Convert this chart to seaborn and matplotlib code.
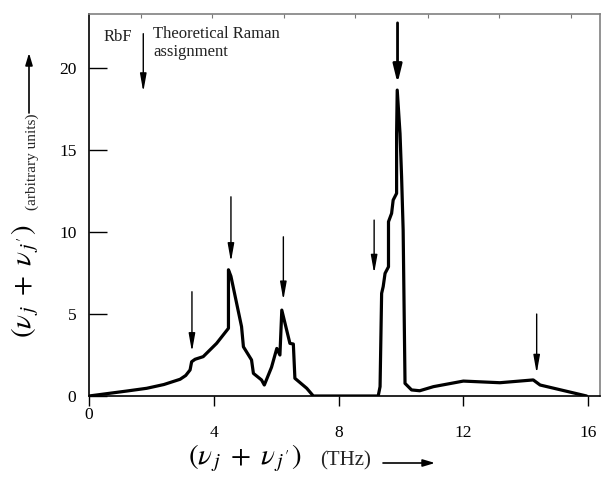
import numpy as np
import pandas as pd
import matplotlib
matplotlib.use("Agg")
import matplotlib.pyplot as plt
from matplotlib.ticker import FixedLocator
from matplotlib.transforms import ScaledTranslation
import seaborn as sns

# ---------------- data ----------------
freq = [0, 0.6, 1.2, 1.85, 2.4, 2.92, 3.1, 3.24, 3.29, 3.4, 3.66, 4.09, 4.47, 4.47,
        4.55, 4.89, 4.95, 5.21, 5.27, 5.53, 5.62, 5.85, 6.02, 6.12, 6.18, 6.44, 6.55,
        6.6, 6.98, 7.19, 9.27, 9.33, 9.38, 9.43, 9.49, 9.6, 9.6, 9.7, 9.75, 9.86,
        9.86, 9.88, 9.97, 10.02, 10.07, 10.13, 10.34, 10.6, 11.04, 12.0, 13.17,
        14.24, 14.46, 15.95]
intensity = [0, 0.15, 0.3, 0.47, 0.7, 1.02, 1.25, 1.59, 2.09, 2.24, 2.40, 3.21, 4.13,
             7.7, 7.3, 4.23, 3.0, 2.2, 1.38, 0.98, 0.67, 1.75, 2.9, 2.5, 5.24, 3.21,
             3.17, 1.08, 0.47, 0, 0, 0.57, 6.26, 6.67, 7.48, 7.88, 10.63, 11.14, 11.95,
             12.36, 16.0, 18.66, 16.0, 13.37, 10.12, 0.77, 0.37, 0.32, 0.57, 0.91,
             0.81, 0.98, 0.67, 0]

# Raman assignment arrows (first one is the key arrow)
arrow_x = [1.74, 3.30, 4.55, 6.23, 9.14, 9.89, 14.35]
arrow_top = [22.1, 6.36, 12.15, 9.71, 10.73, 22.76, 5.0]
arrow_tip = [18.55, 2.7, 8.19, 5.85, 7.48, 19.07, 1.38]

x_ticks = [0, 4, 8, 12, 16]
y_ticks = [0, 5, 10, 15, 20]
top_minor = [1.67, 3.94, 6.25, 8.52, 10.87, 13.14, 15.45]

df = pd.DataFrame({"freq": freq, "intensity": intensity})

# ---------------- style ----------------
sns.set_theme(style="white")
plt.rcParams["font.family"] = ["Liberation Serif", "DejaVu Serif"]
plt.rcParams["mathtext.fontset"] = "stix"

fig = plt.figure(figsize=(6.02, 4.79), dpi=100)
ax = fig.add_axes([89 / 602, 83 / 479, 511 / 602, 382 / 479])

sns.lineplot(data=df, x="freq", y="intensity", sort=False, estimator=None,
             color="black", lw=2.3, ax=ax)

ax.set_xlim(0, 16.38)
ax.set_ylim(0, 23.3)

for i, (xa, yt, yb) in enumerate(zip(arrow_x, arrow_top, arrow_tip)):
    lw = 2.0 if i == 5 else 1.0
    hw = 0.22 if i == 5 else 0.16
    ax.annotate("", xy=(xa, yb), xytext=(xa, yt),
                arrowprops=dict(arrowstyle=f"-|>,head_length=0.9,head_width={hw}",
                                lw=lw, color="black", shrinkA=0, shrinkB=0))

ax.text(0.45, 21.9, "RbF", fontsize=12, ha="left", va="center", color="#222222")
ax.text(2.05, 22.55, "Theoretical Raman\nassignment", fontsize=12, ha="left",
        va="top", linespacing=1.15, color="#222222")

# ticks
ax.set_xticks(x_ticks)
ax.set_xticklabels([str(v) for v in x_ticks])
ax.set_yticks(y_ticks)
ax.set_yticklabels([str(v) for v in y_ticks])
ax.tick_params(axis="y", which="major", direction="in", length=13, width=1,
               pad=9, labelsize=12.5, left=True, colors="black")
ax.tick_params(axis="x", which="major", direction="out", length=7, width=1,
               pad=14, labelsize=12.5, bottom=True, colors="black")
ax.xaxis.set_minor_locator(FixedLocator(top_minor))
ax.tick_params(axis="x", which="minor", bottom=False, top=True, direction="in",
               length=3, width=0.8, color="#777777")

for s in ["left", "bottom"]:
    ax.spines[s].set_color("black")
    ax.spines[s].set_linewidth(1.2)
for s in ["top", "right"]:
    ax.spines[s].set_color("#808080")
    ax.spines[s].set_linewidth(1.2)

# axis labels
big = r"$(\nu_{\,j}\;+\;\nu_{\,j'})$"
ax.set_xlabel(big, fontsize=21, color="black")
ax.xaxis.set_label_coords(0.305, -0.12)
ax.set_ylabel(big, fontsize=21, color="black")
ax.yaxis.set_label_coords(-0.094, 0.3)

fig.text(346 / 602, 1 - 461 / 479, "(THz)", fontsize=15, ha="center", va="center")
fig.text(32 / 602, 1 - 162 / 479, "(arbitrary units)", fontsize=11, ha="center",
         va="center", rotation=90)
ax.annotate("", xy=(29 / 602, 1 - 53 / 479), xytext=(29 / 602, 1 - 113 / 479),
            xycoords="figure fraction", textcoords="figure fraction",
            arrowprops=dict(arrowstyle="-|>,head_length=0.6,head_width=0.18", lw=1.2,
                            color="black", shrinkA=0, shrinkB=0))
ax.annotate("", xy=(435 / 602, 1 - 463 / 479), xytext=(383 / 602, 1 - 463 / 479),
            xycoords="figure fraction", textcoords="figure fraction",
            arrowprops=dict(arrowstyle="-|>,head_length=0.6,head_width=0.18", lw=1.2,
                            color="black", shrinkA=0, shrinkB=0))

# the "0" label sits closer to the axis in the reference
ticks = ax.xaxis.get_major_ticks()
lab0 = ticks[0].label1
lab0.set_transform(lab0.get_transform() + ScaledTranslation(0, 18 / 100, fig.dpi_scale_trans))

fig.savefig("out.png", dpi=100, facecolor="white")
